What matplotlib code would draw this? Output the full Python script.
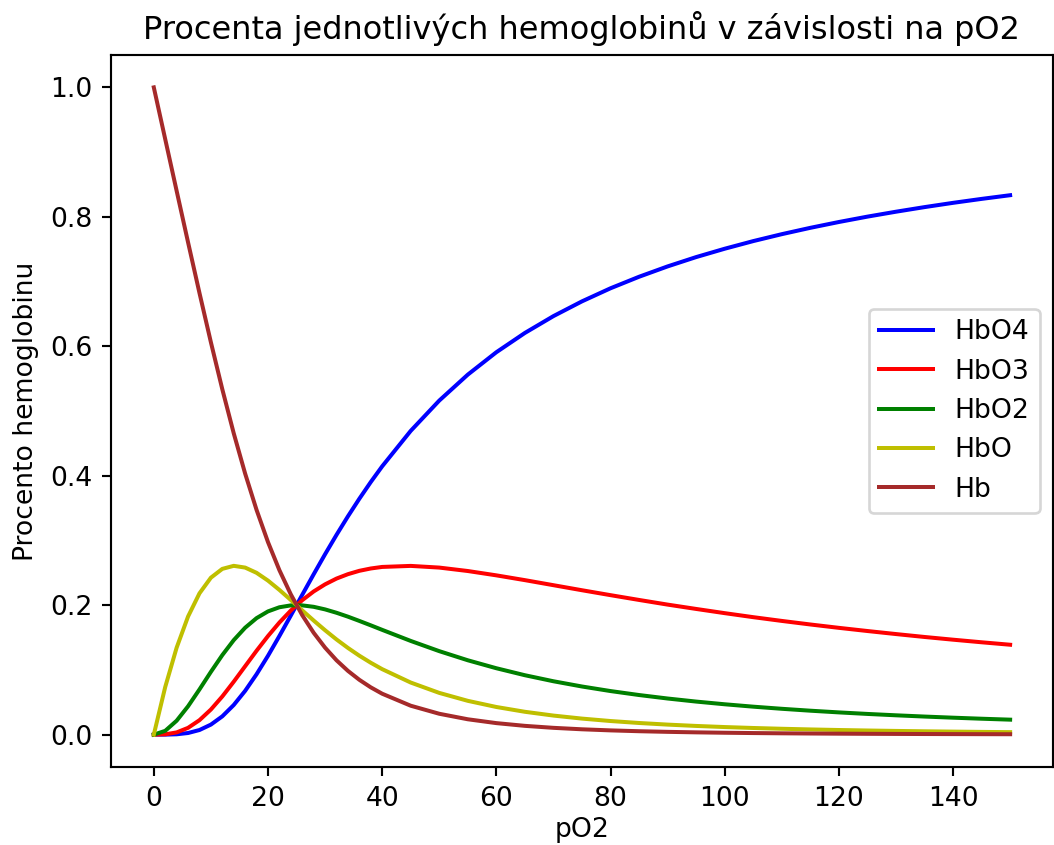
import matplotlib
matplotlib.use("Agg")
import matplotlib.pyplot as plt

# pO2 sample points
po2 = [0, 2, 4, 6, 8, 10, 12, 14, 16, 18, 20, 22, 24, 26, 28, 30, 32, 34, 36, 38, 40,
       45, 50, 55, 60, 65, 70, 75, 80, 85, 90, 95, 100, 105, 110, 115, 120, 125, 130,
       135, 140, 145, 150]

hbo4 = [0.0, 0.00004, 0.00055, 0.00252, 0.00715, 0.01552, 0.0283, 0.04579, 0.06766,
        0.0933, 0.1218, 0.1524, 0.1840, 0.2160, 0.2477, 0.2787, 0.3086, 0.3372, 0.3644,
        0.3902, 0.4145, 0.4693, 0.5161, 0.5562, 0.5908, 0.6206, 0.6466, 0.6694, 0.6896,
        0.7074, 0.7234, 0.7378, 0.7507, 0.7625, 0.7732, 0.7830, 0.7920, 0.8003, 0.8079,
        0.8150, 0.8216, 0.8277, 0.8334]
hbo3 = [0.0, 0.00047, 0.00344, 0.01051, 0.02236, 0.0388, 0.0590, 0.08178, 0.1057,
        0.1296, 0.1523, 0.1732, 0.1917, 0.2077, 0.2212, 0.2322, 0.2411, 0.2479, 0.2531,
        0.2567, 0.2591, 0.2607, 0.2581, 0.2528, 0.2461, 0.2387, 0.2309, 0.2231, 0.2155,
        0.2081, 0.2009, 0.1942, 0.1877, 0.1815, 0.1757, 0.1702, 0.1650, 0.1601, 0.1554,
        0.1509, 0.1467, 0.1427, 0.1389]
hbo2 = [0.0, 0.00589, 0.02151, 0.04381, 0.06987, 0.0970, 0.1229, 0.1460, 0.1652,
        0.1800, 0.1904, 0.1968, 0.1997, 0.1997, 0.1975, 0.1935, 0.1883, 0.1823, 0.1757,
        0.1689, 0.1619, 0.1448, 0.1290, 0.1149, 0.1026, 0.0918, 0.08248, 0.07438, 0.06734,
        0.0612, 0.05582, 0.05109, 0.04692, 0.04322, 0.03994, 0.0370, 0.03437, 0.0320,
        0.02988, 0.02795, 0.0262, 0.0246, 0.02315]
hbo = [0.0, 0.0736, 0.1344, 0.1825, 0.2183, 0.2425, 0.2561, 0.2608, 0.2581, 0.2500,
       0.2380, 0.2236, 0.2080, 0.1920, 0.1763, 0.1613, 0.1471, 0.1340, 0.1220, 0.1111,
       0.1012, 0.0805, 0.0645, 0.05224, 0.04273, 0.03531, 0.02946, 0.02479, 0.02104,
       0.0180, 0.01551, 0.01345, 0.01173, 0.01029, 0.00908, 0.00804, 0.00716, 0.0064,
       0.00575, 0.00518, 0.00468, 0.00424, 0.00386]
hb = [1.0, 0.9200, 0.8401, 0.7606, 0.6823, 0.6062, 0.5336, 0.4656, 0.4033, 0.3472,
      0.2975, 0.2541, 0.2167, 0.1846, 0.1574, 0.1344, 0.1149, 0.09856, 0.08475, 0.0731,
      0.06325, 0.0447, 0.03226, 0.02375, 0.01781, 0.01358, 0.01052, 0.00826, 0.00658,
      0.00529, 0.00431, 0.00354, 0.00293, 0.00245, 0.00206, 0.00175, 0.00149, 0.00128,
      0.00110, 0.00096, 0.00084, 0.00073, 0.00064]

DPI = 192
fig = plt.figure(figsize=(1054 / DPI, 845 / DPI), dpi=DPI)
ax = fig.add_axes([0.1053, 0.0923, 0.8937, 0.8426])

ax.plot(po2, hbo4, color="b", linewidth=1.5, label="HbO4")
ax.plot(po2, hbo3, color="r", linewidth=1.5, label="HbO3")
ax.plot(po2, hbo2, color="g", linewidth=1.5, label="HbO2")
ax.plot(po2, hbo, color="y", linewidth=1.5, label="HbO")
ax.plot(po2, hb, color="brown", linewidth=1.5, label="Hb")

ax.set_title("Procenta jednotlivých hemoglobinů v závislosti na pO2")
ax.set_xlabel("pO2", labelpad=2)
ax.set_ylabel("Procento hemoglobinu")
ax.legend(loc="center right")

fig.savefig("out.png", dpi=DPI)
plt.close(fig)
